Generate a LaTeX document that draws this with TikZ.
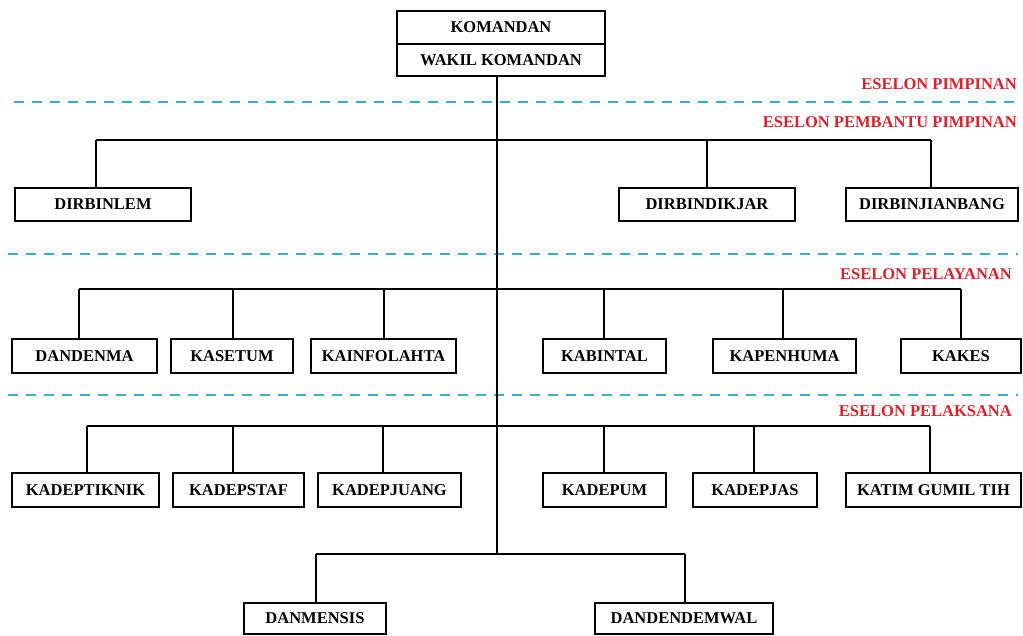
\documentclass[tikz,border=0pt]{standalone}
\usepackage{fontspec}
\setmainfont{Liberation Serif}
\definecolor{eselred}{RGB}{222,32,42}
\definecolor{dashcyan}{RGB}{58,176,198}
\begin{document}
\begin{tikzpicture}[x=1pt,y=-1pt,
  unit/.style={draw=black,line width=2pt,fill=white,inner sep=0pt,
    font=\fontsize{16.5}{18}\selectfont\bfseries,anchor=center},
  bus/.style={line width=2pt,black},
  sep/.style={dashcyan,line width=2pt,dash pattern=on 10pt off 8pt},
  esel/.style={text=eselred,inner sep=0pt,anchor=east,
    font=\fontsize{16.5}{18}\selectfont\bfseries}]
\useasboundingbox (0,0) rectangle (1023,635);

% separators
\draw[sep] (14,102) -- (1018,102);
\draw[sep] (8,254) -- (1018,254);
\draw[sep] (8,395) -- (1018,395);

% eselon labels
\node[esel] (l1) at (1017,84) {ESELON PIMPINAN};
\node[esel] (l2) at (1017,122.5) {ESELON PEMBANTU PIMPINAN};
\node[esel] (l3) at (1012,274.5) {ESELON PELAYANAN};
\node[esel] (l4) at (1012,411) {ESELON PELAKSANA};

% trunk and buses
\coordinate (tr) at (497,554);
\coordinate (b1l) at (96,140);  \coordinate (b1m) at (707,140); \coordinate (b1r) at (931,140);
\coordinate (b2a) at (79,289);  \coordinate (b2b) at (233,289); \coordinate (b2c) at (384,289);
\coordinate (b2d) at (604,289); \coordinate (b2e) at (783,289); \coordinate (b2f) at (961,289);
\coordinate (b3a) at (87,426);  \coordinate (b3b) at (233,426); \coordinate (b3c) at (383,426);
\coordinate (b3d) at (604,426); \coordinate (b3e) at (754,426); \coordinate (b3f) at (930,426);
\coordinate (b4l) at (316,554); \coordinate (b4r) at (685,554);

% top box
\node[unit,minimum width=208pt,minimum height=33pt] (kom) at (501,27.5) {KOMANDAN};
\node[unit,minimum width=208pt,minimum height=32pt] (wakil) at (501,60) {WAKIL KOMANDAN};

% row 1
\node[unit,minimum width=176pt,minimum height=33pt] (dirbinlem) at (103,204.5) {DIRBINLEM};
\node[unit,minimum width=176pt,minimum height=33pt] (dirbindikjar) at (707,204.5) {DIRBINDIKJAR};
\node[unit,minimum width=172pt,minimum height=33pt] (dirbinjianbang) at (932,204.5) {DIRBINJIANBANG};

% row 2
\node[unit,minimum width=145pt,minimum height=34pt] (dandenma) at (84.5,356) {DANDENMA};
\node[unit,minimum width=122pt,minimum height=34pt] (kasetum) at (232,356) {KASETUM};
\node[unit,minimum width=145pt,minimum height=34pt] (kainfolahta) at (383.5,356) {KAINFOLAHTA};
\node[unit,minimum width=123pt,minimum height=34pt] (kabintal) at (604.5,356) {KABINTAL};
\node[unit,minimum width=143pt,minimum height=34pt] (kapenhuma) at (784.5,356) {KAPENHUMA};
\node[unit,minimum width=120pt,minimum height=34pt] (kakes) at (961,356) {KAKES};

% row 3
\node[unit,minimum width=147pt,minimum height=34pt] (kadeptiknik) at (85.5,490) {KADEPTIKNIK};
\node[unit,minimum width=131pt,minimum height=34pt] (kadepstaf) at (238.5,490) {KADEPSTAF};
\node[unit,minimum width=143pt,minimum height=34pt] (kadepjuang) at (389.5,490) {KADEPJUANG};
\node[unit,minimum width=123pt,minimum height=34pt] (kadepum) at (604.5,490) {KADEPUM};
\node[unit,minimum width=124pt,minimum height=34pt] (kadepjas) at (755,490) {KADEPJAS};
\node[unit,minimum width=175pt,minimum height=34pt] (katim) at (933.5,490) {KATIM GUMIL TIH};

% row 4
\node[unit,minimum width=142pt,minimum height=31pt] (danmensis) at (315,618.5) {DANMENSIS};
\node[unit,minimum width=178pt,minimum height=31pt] (dandendemwal) at (684,618.5) {DANDENDEMWAL};

% connectors
\draw[bus] (wakil.south -| tr) -- (tr);
\draw[bus] (b1l) -- (b1r);
\draw[bus] (b1l) -- (b1l |- dirbinlem.north);
\draw[bus] (b1m) -- (b1m |- dirbindikjar.north);
\draw[bus] (b1r) -- (b1r |- dirbinjianbang.north);

\draw[bus] (b2a) -- (b2f);
\draw[bus] (b2a) -- (b2a |- dandenma.north);
\draw[bus] (b2b) -- (b2b |- kasetum.north);
\draw[bus] (b2c) -- (b2c |- kainfolahta.north);
\draw[bus] (b2d) -- (b2d |- kabintal.north);
\draw[bus] (b2e) -- (b2e |- kapenhuma.north);
\draw[bus] (b2f) -- (b2f |- kakes.north);

\draw[bus] (b3a) -- (b3f);
\draw[bus] (b3a) -- (b3a |- kadeptiknik.north);
\draw[bus] (b3b) -- (b3b |- kadepstaf.north);
\draw[bus] (b3c) -- (b3c |- kadepjuang.north);
\draw[bus] (b3d) -- (b3d |- kadepum.north);
\draw[bus] (b3e) -- (b3e |- kadepjas.north);
\draw[bus] (b3f) -- (b3f |- katim.north);

\draw[bus] (b4l) -- (b4r);
\draw[bus] (b4l) -- (b4l |- danmensis.north);
\draw[bus] (b4r) -- (b4r |- dandendemwal.north);
\end{tikzpicture}
\end{document}
